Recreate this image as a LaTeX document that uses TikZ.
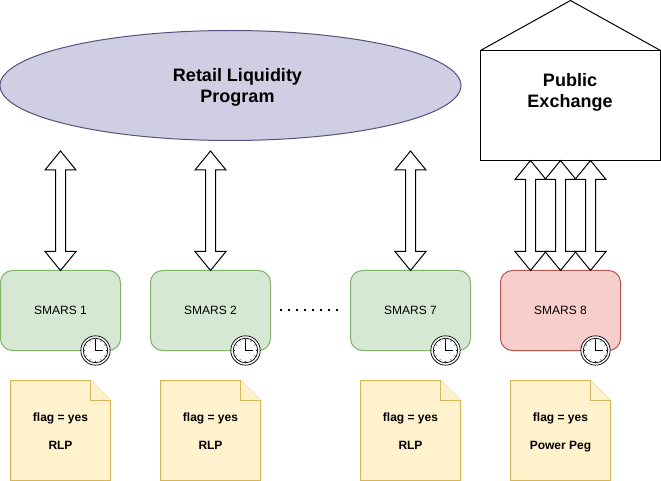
\documentclass[tikz,border=0pt]{standalone}
\usepackage{fontspec}
\setmainfont{Liberation Sans}
\usetikzlibrary{calc,shapes.geometric}
\definecolor{purpF}{HTML}{D0CEE2}\definecolor{purpD}{HTML}{56517E}
\definecolor{greenF}{HTML}{D5E8D4}\definecolor{greenD}{HTML}{82B366}
\definecolor{redF}{HTML}{F8CECC}\definecolor{redD}{HTML}{B85450}
\definecolor{yelF}{HTML}{FFF2CC}\definecolor{yelD}{HTML}{D6B656}
\tikzset{
  x=0.75pt,y=-0.75pt,
  every node/.style={inner sep=0pt,outer sep=0pt},
  base/.style={line width=0.75pt},
  retail/.style={base,draw=purpD,fill=purpF,ellipse,minimum width=345.75pt,minimum height=82.5pt},
  title/.style={font=\fontsize{13.5}{15.75}\selectfont\bfseries,align=center,text=black},
  smars/.style={base,rectangle,rounded corners=9pt,minimum width=90pt,minimum height=60pt,font=\fontsize{9}{11}\selectfont,text=black},
  green box/.style={smars,draw=greenD,fill=greenF},
  red box/.style={smars,draw=redD,fill=redF},
  doctext/.style={font=\fontsize{9}{11}\selectfont\bfseries,text=black,anchor=base},
  docshape/.style={base,draw=yelD,fill=yelF},
  blockarrow/.style={base,draw=black,fill=white,line join=miter},
}
% block double arrow between two named points
\newcommand{\blockarrow}[2]{%
  \draw[blockarrow]
    (#1) -- ($(#1)+(15.5,19)$) -- ($(#1)+(5,19)$) -- ($(#2)+(5,-19)$) -- ($(#2)+(15.5,-19)$)
    -- (#2) -- ($(#2)+(-15.5,-19)$) -- ($(#2)+(-5,-19)$) -- ($(#1)+(-5,19)$) -- ($(#1)+(-15.5,19)$) -- cycle;}
% clock at a point
\newcommand{\clockat}[1]{%
  \fill[white] (#1) circle[radius=11pt];
  \draw[line width=0.55pt] (#1) circle[radius=11pt];
  \draw[line width=0.55pt] (#1) circle[radius=9.2pt];
  \foreach \a in {0,30,...,330}{\draw[line width=0.4pt,black!80] ($(#1)+(\a:7.6pt)$) -- ($(#1)+(\a:9pt)$);}
  \draw[line width=0.55pt] ($(#1)+(0,-11)$) -- (#1) -- ($(#1)+(7,0)$);}
% note shape
\newcommand{\docat}[4]{% name, left x, line1, line2
  \coordinate (#1) at (#2,380.5);
  \draw[docshape] (#1) -- ($(#1)+(80,0)$) -- ($(#1)+(100,20)$) -- ($(#1)+(100,100)$) -- ($(#1)+(0,100)$) -- cycle;
  \draw[docshape] ($(#1)+(80,0)$) -- ($(#1)+(80,20)$) -- ($(#1)+(100,20)$);
  \node[doctext] (#1a) at ($(#1)+(50,40.5)$) {#3};
  \node[doctext] (#1b) at ($(#1)+(50,68.5)$) {#4};}
\begin{document}
\begin{tikzpicture}
\useasboundingbox (0,0) rectangle (661,481);
\fill[white] (0,0) rectangle (661,481);
% retail liquidity program
\node[retail] (rlp) at (230.5,85.5) {};
\node[title] (rlptext) at (237.5,87.5) {Retail Liquidity\\Program};
% public exchange
\coordinate (hl) at (480.5,50.5);
\coordinate (ht) at (570.5,0.5);
\coordinate (hr) at (660.5,50.5);
\draw[base] (hl) -- (ht) -- (hr);
\draw[base] (480.5,50.5) rectangle (660.5,160.5);
\node[title] (pub) at (570,92.5) {Public\\Exchange};
% smars
\node[green box] (s1) at (60.5,310.5) {SMARS 1};
\node[green box] (s2) at (210.5,310.5) {SMARS 2};
\node[green box] (s7) at (410.5,310.5) {SMARS 7};
\node[red box] (s8) at (560.5,310.5) {SMARS 8};
% clocks
\coordinate (c1) at (95.5,350.5);\clockat{c1}
\coordinate (c2) at (245.5,350.5);\clockat{c2}
\coordinate (c7) at (445.5,350.5);\clockat{c7}
\coordinate (c8) at (595.5,350.5);\clockat{c8}
% arrows
\coordinate (a1t) at (60.5,151);\coordinate (a1b) at (60.5,270.5);\blockarrow{a1t}{a1b}
\coordinate (a2t) at (210.5,151);\coordinate (a2b) at (210.5,270.5);\blockarrow{a2t}{a2b}
\coordinate (a7t) at (410.5,151);\coordinate (a7b) at (410.5,270.5);\blockarrow{a7t}{a7b}
\coordinate (b1t) at (530.5,160.5);\coordinate (b1b) at (530.5,270.5);\blockarrow{b1t}{b1b}
\coordinate (b2t) at (560.5,160.5);\coordinate (b2b) at (560.5,270.5);\blockarrow{b2t}{b2b}
\coordinate (b3t) at (590.5,160.5);\coordinate (b3b) at (590.5,270.5);\blockarrow{b3t}{b3b}
% dots
\coordinate (d1) at (280,310);\coordinate (d2) at (340,310);
\draw[line width=1.5pt,dash pattern=on 1.5pt off 4.5pt,black] (d1) -- (d2);
% documents
\docat{n1}{10.5}{flag = yes}{RLP}
\docat{n2}{160.5}{flag = yes}{RLP}
\docat{n7}{360.5}{flag = yes}{RLP}
\docat{n8}{510.5}{flag = yes}{Power Peg}
\end{tikzpicture}
\end{document}
